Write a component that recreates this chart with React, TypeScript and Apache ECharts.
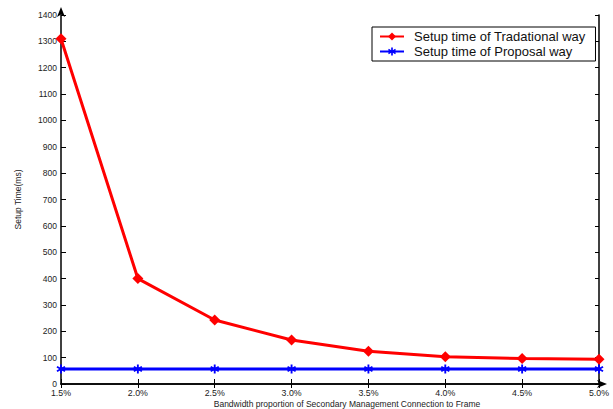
import React, { useEffect, useRef } from "react";
import * as echarts from "echarts";

const categories = ["1.5%", "2.0%", "2.5%", "3.0%", "3.5%", "4.0%", "4.5%", "5.0%"];
const traditional = [1310, 400, 243, 167, 124, 103, 97, 94];
const proposal = [57, 57, 57, 57, 57, 57, 57, 57];

const asterisk =
  "path://M4,0 L6,0 L6,3.3 L8.8,1.6 L9.8,3.3 L7,5 L9.8,6.7 L8.8,8.4 L6,6.7 L6,10 L4,10 L4,6.7 L1.2,8.4 L0.2,6.7 L3,5 L0.2,3.3 L1.2,1.6 L4,3.3 Z";

export default function App() {
  const ref = useRef<HTMLDivElement>(null);
  useEffect(() => {
    if (!ref.current) return;
    const chart = echarts.init(ref.current, null, { renderer: "svg" });
    const font = "'Liberation Sans', Arial, sans-serif";
    const labelStyle = { fontSize: 8.8, color: "#222", fontFamily: font };
    chart.setOption({
      animation: false,
      backgroundColor: "#fff",
      grid: { left: 61, right: 14, top: 15, bottom: 25, containLabel: false, outerBoundsMode: "none" },
      legend: {
        left: 372,
        top: 27,
        orient: "vertical",
        itemWidth: 24,
        itemHeight: 10,
        itemGap: 2,
        padding: [3, 10, 3, 7],
        borderColor: "#000",
        borderWidth: 1,
        backgroundColor: "#fff",
        borderRadius: 0,
        textStyle: { fontSize: 13, color: "#111", fontFamily: font, padding: [0, 0, 0, 5] },
        data: ["Setup time of Tradational way", "Setup time of Proposal way"],
      },
      xAxis: [
        {
          type: "category",
          data: categories,
          boundaryGap: false,
          name: "Bandwidth proportion of Secondary Management Connection to Frame",
          nameLocation: "middle",
          nameGap: 15,
          nameMoveOverlap: false,
          nameTextStyle: {
            fontSize: 8.5,
            lineHeight: 10,
            color: "#222",
            fontFamily: font,
            padding: [0, 0, 0, 34],
          },
          axisLine: {
            lineStyle: { color: "#000", width: 1.5 },
            symbol: ["none", "arrow"],
            symbolSize: [6, 10],
            symbolOffset: [0, 8],
          },
          axisTick: { inside: true, length: 5, alignWithLabel: true, lineStyle: { color: "#000" } },
          axisLabel: { ...labelStyle, margin: 4 },
          splitLine: { show: false },
        },
        {
          type: "category",
          data: categories,
          boundaryGap: false,
          position: "top",
          axisLine: { lineStyle: { color: "#000", width: 1.5 } },
          axisTick: { inside: true, length: 4, lineStyle: { color: "#000" } },
          axisLabel: { show: false },
          splitLine: { show: false },
        },
      ],
      yAxis: [
        {
          type: "value",
          min: 0,
          max: 1400,
          interval: 100,
          name: "Setup Time(ms)",
          nameLocation: "middle",
          nameGap: 39,
          nameRotate: 90,
          nameMoveOverlap: false,
          nameTextStyle: { fontSize: 8.5, color: "#222", fontFamily: font },
          axisLine: {
            show: true,
            lineStyle: { color: "#000", width: 1.5 },
            symbol: ["none", "arrow"],
            symbolSize: [6, 10],
            symbolOffset: [0, 8],
          },
          axisTick: { show: true, inside: true, length: 5, lineStyle: { color: "#000" } },
          axisLabel: { ...labelStyle, fontSize: 8.5, margin: 4, formatter: (v: number) => String(v) },
          splitLine: { show: false },
        },
        {
          type: "value",
          min: 0,
          max: 1400,
          interval: 100,
          position: "right",
          axisLine: { show: true, lineStyle: { color: "#000", width: 1.5 } },
          axisTick: { show: true, inside: true, length: 4, lineStyle: { color: "#000" } },
          axisLabel: { show: false },
          splitLine: { show: false },
        },
      ],
      series: [
        {
          name: "Setup time of Tradational way",
          type: "line",
          data: traditional,
          xAxisIndex: 0,
          yAxisIndex: 0,
          symbol: "diamond",
          symbolSize: 11,
          itemStyle: { color: "#ff0000" },
          lineStyle: { color: "#ff0000", width: 3 },
          z: 3,
        },
        {
          name: "Setup time of Proposal way",
          type: "line",
          data: proposal,
          xAxisIndex: 0,
          yAxisIndex: 0,
          symbol: asterisk,
          symbolSize: 9,
          itemStyle: { color: "#0000ff" },
          lineStyle: { color: "#0000ff", width: 3 },
          z: 2,
        },
      ],
    });
    return () => chart.dispose();
  }, []);
  return <div ref={ref} style={{ width: 613, height: 409, position: "absolute", left: 0, top: 0 }} />;
}
